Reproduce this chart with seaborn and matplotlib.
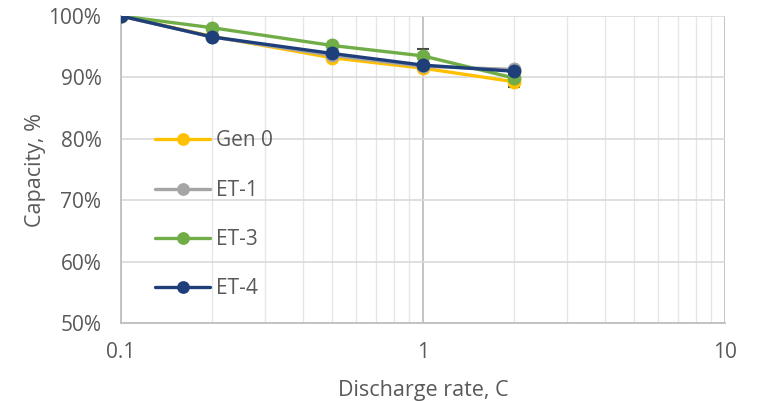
import matplotlib
matplotlib.use("Agg")
import matplotlib.pyplot as plt
import matplotlib.ticker as mticker
import numpy as np
import pandas as pd
import seaborn as sns

# Discharge-rate capability data
rates = [0.1, 0.2, 0.5, 1, 2]
series_names = ["Gen 0", "ET-1", "ET-3", "ET-4"]
gen0 = [100.0, 96.7, 93.2, 91.5, 89.3]
et1 = [100.0, 96.6, 93.6, 91.8, 91.3]
et3 = [100.0, 98.1, 95.2, 93.5, 89.9]
et4 = [100.0, 96.6, 93.9, 92.0, 91.0]
err_gen0 = [0.0, 0.0, 0.0, 0.3, 0.9]
err_et3 = [0.0, 0.0, 0.0, 1.1, 0.6]
colors = ["#FFC000", "#A5A5A5", "#70AD47", "#1F3F7A"]

values = [gen0, et1, et3, et4]
df = pd.DataFrame({
    "rate": rates * len(series_names),
    "capacity": [v for s in values for v in s],
    "series": [n for n in series_names for _ in rates],
})

sns.set_style("white")
plt.rcParams["font.family"] = ["Open Sans", "DejaVu Sans"]

fig = plt.figure(figsize=(7.6, 4.01), dpi=100)
ax = fig.add_axes([0.159, 0.1945, 0.795, 0.7656])

# small error bars, mostly hidden behind the markers
ax.errorbar(rates, gen0, yerr=err_gen0, fmt="none", ecolor="#4a4a4a",
            elinewidth=1.2, capsize=4, capthick=1.5, zorder=1)
ax.errorbar(rates, et3, yerr=err_et3, fmt="none", ecolor="#4a4a4a",
            elinewidth=1.2, capsize=4, capthick=1.5, zorder=1)

sns.lineplot(data=df, x="rate", y="capacity", hue="series",
             hue_order=series_names, palette=colors, marker="o",
             markersize=10, markeredgewidth=0, linewidth=2.4,
             errorbar=None, ax=ax, zorder=3)

ax.set_xscale("log")
ax.set_xlim(0.1, 10)
ax.set_ylim(50, 100)
ax.set_yticks(np.arange(50, 101, 10))
ax.yaxis.set_major_formatter(mticker.FuncFormatter(lambda v, p: f"{v:.0f}%"))
ax.xaxis.set_major_locator(mticker.FixedLocator([0.1, 1, 10]))
ax.xaxis.set_major_formatter(mticker.FuncFormatter(lambda v, p: f"{v:g}"))
ax.xaxis.set_minor_locator(mticker.LogLocator(base=10, subs=np.arange(2, 10)))
ax.xaxis.set_minor_formatter(mticker.NullFormatter())

ax.grid(which="major", axis="y", color="#D9D9D9", linewidth=1.2)
ax.grid(which="major", axis="x", color="#BFBFBF", linewidth=1.3)
ax.grid(which="minor", axis="x", color="#E6E6E6", linewidth=1.0)
ax.set_axisbelow(True)

for side in ["top", "right"]:
    ax.spines[side].set_visible(False)
for side in ["left", "bottom"]:
    ax.spines[side].set_color("#BFBFBF")
    ax.spines[side].set_linewidth(1.3)

ax.tick_params(axis="both", which="both", length=0, labelsize=15,
               labelcolor="#595959")
ax.tick_params(axis="x", pad=14)
ax.tick_params(axis="y", pad=14)
ax.set_xlabel("Discharge rate, C", fontsize=15.5, color="#595959", labelpad=12)
ax.set_ylabel("Capacity, %", fontsize=15.5, color="#595959", labelpad=2)

leg = ax.legend(loc="upper left", bbox_to_anchor=(0.04, 0.661), frameon=False,
                fontsize=15, handlelength=2.6, handletextpad=0.3,
                labelspacing=1.36, borderpad=0, markerscale=0.92)
for t in leg.get_texts():
    t.set_color("#595959")

fig.savefig("out.png", dpi=100, facecolor="white")
